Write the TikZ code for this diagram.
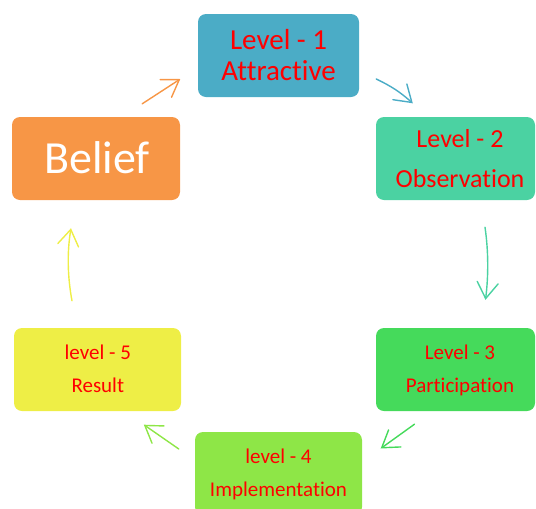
\documentclass[tikz,border=0pt]{standalone}
\usepackage{fontspec}
\setmainfont{Carlito}[Ligatures={NoCommon,NoRequired,NoContextual}]
\usetikzlibrary{arrows.meta,calc}
\definecolor{cAqua}{HTML}{4BACC6}
\definecolor{cOrange}{HTML}{F79646}
\definecolor{cTeal}{HTML}{4BD2A2}
\definecolor{cGreen}{HTML}{45DA5B}
\definecolor{cLime}{HTML}{8EE647}
\definecolor{cYellow}{HTML}{EEEE46}
\definecolor{cRed}{HTML}{FF0000}
\newcommand{\fsz}[1]{\fontsize{#1}{#1}\selectfont}
\begin{document}
\begin{tikzpicture}[x=1pt,y=-1pt,
  stagebox/.style 2 args={rounded corners=8pt, inner sep=0pt, fill=#1,
    minimum width=#2, minimum height=83pt},
  txt/.style={anchor=base, inner sep=0pt, text=cRed},
  flow/.style={line width=1.4pt, line cap=round,
    -{Straight Barb[length=16pt,width=21pt,line cap=round]}}]
\useasboundingbox (0,0) rectangle (536,509);
\clip (0,0) rectangle (536,509);

% the six stages
\node[stagebox={cAqua}{161pt}]   (l1)  at (278.5,55.5)  {};
\node[stagebox={cOrange}{168pt}] (bel) at (96,158.5)    {};
\node[stagebox={cTeal}{159pt}]   (l2)  at (455.5,158.5) {};
\node[stagebox={cGreen}{159pt}]  (l3)  at (455.5,369.5) {};
\node[stagebox={cLime}{167pt}]   (l4)  at (278.5,473.5) {};
\node[stagebox={cYellow}{167pt}] (l5)  at (97.5,369.5)  {};

% labels
\node[txt, font=\fsz{29}] (l1a) at (278.6,49) {Level - 1};
\node[txt, font=\fsz{29}] (l1b) at (278.6,80) {Attractive};
\node[txt, font=\fsz{46}, text=white] (bela) at (97,173) {Belief};
\node[txt, font=\fsz{26}] (l2a) at (460,147) {Level - 2};
\node[txt, font=\fsz{26}] (l2b) at (460,187) {Observation};
\node[txt, font=\fsz{21}] (l3a) at (460,359) {Level - 3};
\node[txt, font=\fsz{21}] (l3b) at (460,392) {Participation};
\node[txt, font=\fsz{21}] (l4a) at (278.5,463) {level - 4};
\node[txt, font=\fsz{21}] (l4b) at (278.5,496) {Implementation};
\node[txt, font=\fsz{21}] (l5a) at (97.8,359) {level - 5};
\node[txt, font=\fsz{21}] (l5b) at (97.8,392) {Result};

% arrow end points, placed next to the stages they join
\coordinate (a1s) at ($(bel.north east)+(-38,-13)$);
\coordinate (a1e) at ($(l1.west)+(-17.5,23.5)$);
\coordinate (a2s) at ($(l1.east)+(17,23.5)$);
\coordinate (a2e) at ($(l2.north west)+(37,-13.5)$);
\coordinate (a3s) at ($(l2.south)+(29.5,27)$);
\coordinate (a3e) at ($(l3.north)+(30,-28)$);
\coordinate (a4s) at ($(l3.south west)+(38.7,13)$);
\coordinate (a4e) at ($(l4.east)+(18.5,-25)$);
\coordinate (a5s) at ($(l4.west)+(-16,-24.5)$);
\coordinate (a5e) at ($(l5.south east)+(-37.4,13.5)$);
\coordinate (a6s) at ($(l5.north)+(-25.5,-27)$);
\coordinate (a6e) at ($(bel.south)+(-25,28)$);

% the cycle
\draw[flow, cOrange] (a1s) -- (a1e);
\draw[flow, cAqua] (a2s) to[bend left=8] (a2e);
\draw[flow, cTeal] (a3s) .. controls ($(a3s)+(3.5,24)$) and ($(a3e)+(3,-24)$) .. (a3e);
\draw[flow, cGreen] (a4s) -- (a4e);
\draw[flow, cLime] (a5s) -- (a5e);
\draw[flow, cYellow] (a6s) .. controls ($(a6s)+(-4.5,-24)$) and ($(a6e)+(-4,24)$) .. (a6e);
\end{tikzpicture}
\end{document}
